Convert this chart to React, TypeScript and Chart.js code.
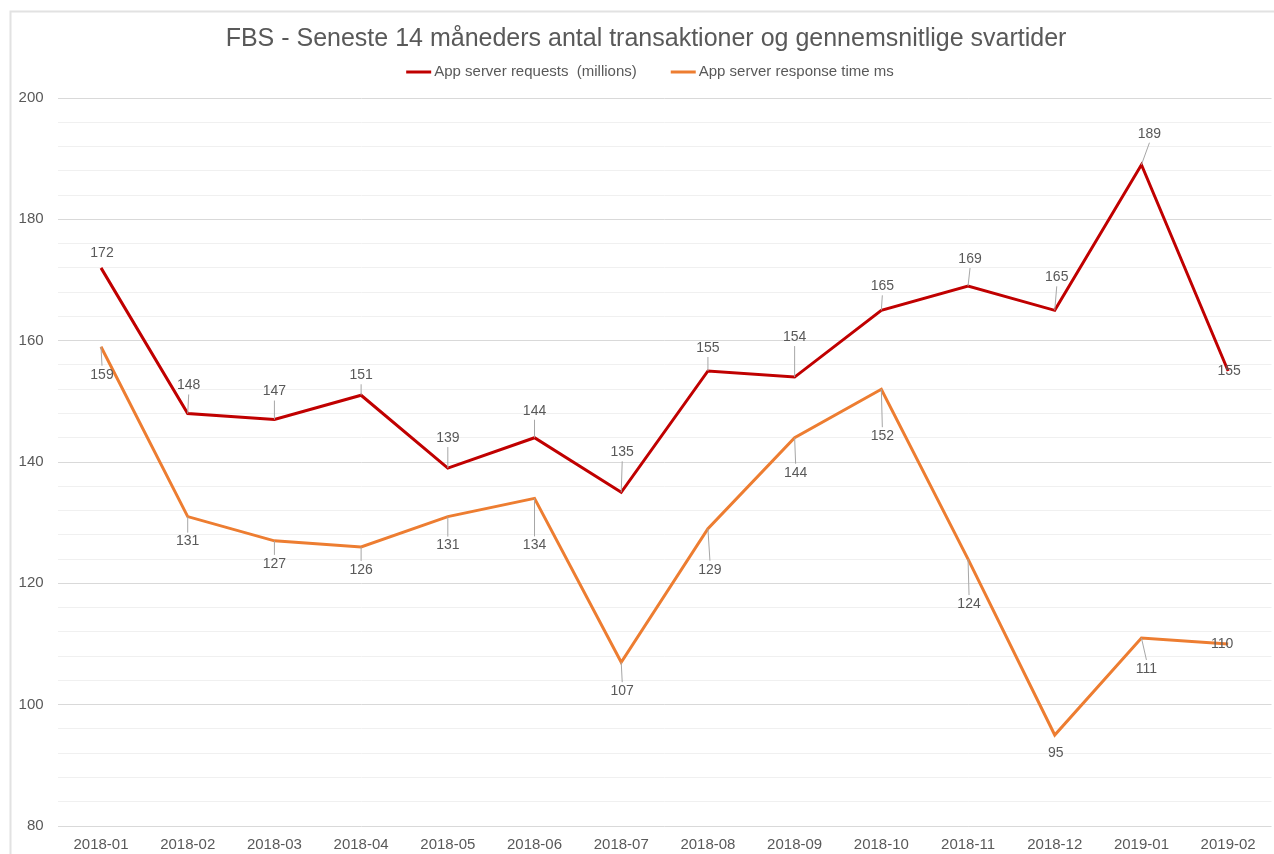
import React, { useEffect, useRef } from "react";
import { Chart, registerables } from "chart.js";

Chart.register(...registerables);

const TITLE = "FBS - Seneste 14 måneders antal transaktioner og gennemsnitlige svartider";
const months = [
  "2018-01", "2018-02", "2018-03", "2018-04", "2018-05", "2018-06", "2018-07",
  "2018-08", "2018-09", "2018-10", "2018-11", "2018-12", "2019-01", "2019-02",
];
const requestsName = "App server requests  (millions)";
const responseName = "App server response time ms";
const requests = [172, 148, 147, 151, 139, 144, 135, 155, 154, 165, 169, 165, 189, 155];
const responseTimes = [159, 131, 127, 126, 131, 134, 107, 129, 144, 152, 124, 95, 111, 110];
const yMin = 80;
const yMax = 200;
const yLabelStep = 20;
const yGridStep = 4;

// data-label placement relative to each point (px)
const requestLabelDx = [1, 1, 0, 0, 0, 0, 1, 0, 0, 1, 2, 2, 8, 1];
const requestLabelDy = [-15, -28, -28, -20, -30, -27, -40, -23, -40, -24, -27, -33, -31, 0];
const responseLabelDx = [1, 0, 0, 0, 0, 0, 1, 2, 1, 1, 1, 1, 5, -6];
const responseLabelDy = [28, 25, 23, 23, 29, 47, 29, 41, 35, 47, 45, 18, 31, 0];

const FONT = "'Liberation Sans', Arial, Helvetica, sans-serif";
const TEXT = "#595959";
const RED = "#C00000";
const ORANGE = "#ED7D31";

const decorPlugin = {
  id: "decor",
  beforeDraw(chart: any) {
    const ctx = chart.ctx;
    ctx.save();
    ctx.fillStyle = "#ffffff";
    ctx.fillRect(0, 0, chart.width, chart.height);
    ctx.strokeStyle = "#e2e2e2";
    ctx.lineWidth = 2;
    ctx.beginPath();
    ctx.moveTo(10.5, chart.height);
    ctx.lineTo(10.5, 11.5);
    ctx.lineTo(chart.width, 11.5);
    ctx.stroke();
    ctx.restore();
  },
  afterDraw(chart: any) {
    const ctx = chart.ctx;
    ctx.save();
    // title
    ctx.fillStyle = TEXT;
    ctx.font = `25px ${FONT}`;
    ctx.textAlign = "center";
    ctx.textBaseline = "middle";
    ctx.fillText(TITLE, 646, 39);
    // legend
    ctx.font = `15px ${FONT}`;
    const sample = 25;
    const gap = 3;
    const itemGap = 34;
    const items = [
      { text: requestsName, color: RED },
      { text: responseName, color: ORANGE },
    ];
    const widths = items.map((it) => sample + gap + ctx.measureText(it.text).width);
    const total = widths[0] + itemGap + widths[1];
    let x = 650 - total / 2;
    const y = 72;
    items.forEach((it, i) => {
      ctx.strokeStyle = it.color;
      ctx.lineWidth = 3;
      ctx.beginPath();
      ctx.moveTo(x, y);
      ctx.lineTo(x + sample, y);
      ctx.stroke();
      ctx.fillStyle = TEXT;
      ctx.textAlign = "left";
      ctx.fillText(it.text, x + sample + gap, y);
      x += widths[i] + itemGap;
    });
    ctx.restore();
  },
};

const labelPlugin = {
  id: "pointLabels",
  afterDatasetsDraw(chart: any) {
    const ctx = chart.ctx;
    ctx.save();
    ctx.font = `14px ${FONT}`;
    ctx.textAlign = "center";
    ctx.textBaseline = "middle";
    chart.data.datasets.forEach((ds: any, di: number) => {
      const meta = chart.getDatasetMeta(di);
      const dxs = di === 0 ? requestLabelDx : responseLabelDx;
      const dys = di === 0 ? requestLabelDy : responseLabelDy;
      meta.data.forEach((pt: any, i: number) => {
        const px = pt.x;
        const py = pt.y;
        const lx = px + dxs[i];
        const ly = py + dys[i];
        if (Math.abs(dys[i]) > 18) {
          const edge = ly - Math.sign(dys[i]) * 9;
          ctx.strokeStyle = "#a6a6a6";
          ctx.lineWidth = 1;
          ctx.beginPath();
          ctx.moveTo(px, py);
          ctx.lineTo(lx, edge);
          ctx.stroke();
        }
        ctx.fillStyle = TEXT;
        ctx.fillText(String(ds.data[i]), lx, ly);
      });
    });
    ctx.restore();
  },
};

export default function App() {
  const ref = useRef<HTMLCanvasElement | null>(null);

  useEffect(() => {
    document.body.style.margin = "0";
    const canvas = ref.current;
    if (!canvas) return;
    const chart = new Chart(canvas, {
      type: "line",
      data: {
        labels: months,
        datasets: [
          {
            label: requestsName,
            data: requests,
            borderColor: RED,
            backgroundColor: RED,
            borderWidth: 3,
            pointRadius: 0,
            fill: false,
            tension: 0,
          },
          {
            label: responseName,
            data: responseTimes,
            borderColor: ORANGE,
            backgroundColor: ORANGE,
            borderWidth: 3,
            pointRadius: 0,
            fill: false,
            tension: 0,
          },
        ],
      },
      options: {
        responsive: false,
        animation: false,
        devicePixelRatio: 1,
        layout: { padding: { top: 98, right: 2.5, bottom: 2, left: 0 } },
        plugins: {
          legend: { display: false },
          title: { display: false },
          tooltip: { enabled: false },
        },
        scales: {
          x: {
            offset: true,
            grid: { display: false, drawTicks: false },
            border: { display: false },
            ticks: {
              color: TEXT,
              font: { family: FONT, size: 15 },
              padding: 10,
              maxRotation: 0,
              autoSkip: false,
            },
            afterFit: (scale: any) => {
              scale.height = 26;
            },
          },
          y: {
            min: yMin,
            max: yMax,
            border: { display: false },
            grid: {
              drawTicks: false,
              lineWidth: 1,
              color: (c: any) =>
                c.tick && c.tick.value % yLabelStep === 0 ? "#d9d9d9" : "#f0f0f0",
            },
            ticks: {
              stepSize: yGridStep,
              autoSkip: false,
              color: TEXT,
              font: { family: FONT, size: 15 },
              padding: 14,
              callback: (v: any) => (Number(v) % yLabelStep === 0 ? String(v) : ""),
            },
            afterFit: (scale: any) => {
              scale.width = 57.65;
            },
          },
        },
      },
      plugins: [decorPlugin, labelPlugin],
    } as any);
    return () => chart.destroy();
  }, []);

  return (
    <div style={{ width: 1274, height: 854 }}>
      <canvas ref={ref} width={1274} height={854} style={{ display: "block" }} />
    </div>
  );
}
